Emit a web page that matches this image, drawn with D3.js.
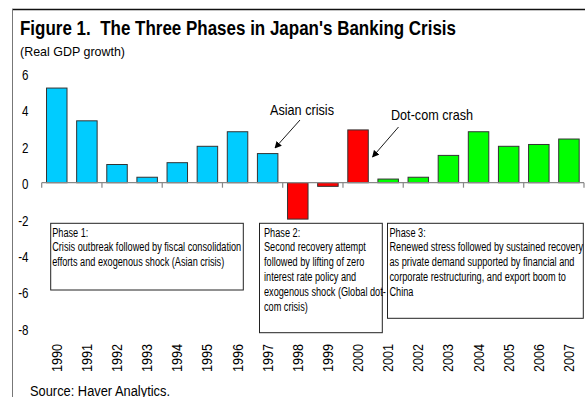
<!DOCTYPE html>
<html>
<head>
<meta charset="utf-8">
<script src="https://cdn.jsdelivr.net/npm/d3@7"></script>
<style>
  html, body { margin: 0; padding: 0; background: #fff; }
  svg { display: block; }
  text { font-family: "Liberation Sans", Arial, sans-serif; fill: #000; }
</style>
</head>
<body>
<svg id="chart" width="585" height="397"></svg>
<script>
// Real GDP growth, Japan, 1990-2007 (percent)
const years = ["1990","1991","1992","1993","1994","1995","1996","1997","1998",
               "1999","2000","2001","2002","2003","2004","2005","2006","2007"];
const growth = [5.2, 3.4, 1.0, 0.3, 1.1, 2.0, 2.8, 1.6, -2.0,
                -0.2, 2.9, 0.2, 0.3, 1.5, 2.8, 2.0, 2.1, 2.4];
const phase = [1,1,1,1,1,1,1,1,2, 2,2,3,3,3,3,3,3,3];
const phaseColors = {1: "#00CCFF", 2: "#FF0000", 3: "#00FF00"};
const yTicks = [6, 4, 2, 0, -2, -4, -6, -8];

const phaseNotes = [
  ["Phase 1:",
   "Crisis outbreak followed by fiscal consolidation",
   "efforts and exogenous shock (Asian crisis)"],
  ["Phase 2:",
   "Second recovery attempt",
   "followed by lifting of zero",
   "interest rate policy and",
   "exogenous shock (Global dot-",
   "com crisis)"],
  ["Phase 3:",
   "Renewed stress followed by sustained recovery",
   "as private demand supported by financial and",
   "corporate restructuring, and export boom to",
   "China"]
];

const svg = d3.select("#chart");

// condensed look: squeeze a class of texts by one common factor so that
// a reference string of that class spans the wanted width
function narrow(sel, factor) {
  sel.each(function () {
    const w = this.getComputedTextLength();
    d3.select(this).attr("textLength", w * factor).attr("lengthAdjust", "spacingAndGlyphs");
  });
}
function factorFor(node, width) { return width / node.getComputedTextLength(); }

const x = d3.scaleBand().domain(years).range([41.7, 584]).paddingInner(0.32).paddingOuter(0.16);
const y = d3.scaleLinear().domain([-8, 6]).range([328.3, 73.5]);

// frame
svg.append("line").attr("x1", 12).attr("x2", 585).attr("y1", 9.5).attr("y2", 9.5)
  .attr("stroke", "#111").attr("stroke-width", 1.6);
svg.append("line").attr("x1", 12.5).attr("x2", 12.5).attr("y1", 9).attr("y2", 397)
  .attr("stroke", "#777").attr("stroke-width", 1);

// titles
const title = svg.append("text").attr("x", 20).attr("y", 35)
  .attr("font-size", 19.5).attr("font-weight", "bold")
  .attr("xml:space", "preserve")
  .text("Figure 1.  The Three Phases in Japan's Banking Crisis");
narrow(title, factorFor(title.node(), 436));
const sub = svg.append("text").attr("x", 20).attr("y", 56).attr("font-size", 13.5)
  .text("(Real GDP growth)");
narrow(sub, factorFor(sub.node(), 105));

// y tick labels (no axis line)
const yl = svg.append("g").selectAll("text").data(yTicks).join("text")
  .attr("x", 28.5).attr("y", d => y(d) + 1.5)
  .attr("text-anchor", "end").attr("dominant-baseline", "central")
  .attr("font-size", 14.5)
  .text(d => d);
narrow(yl, 0.8);

// bars
svg.append("g").selectAll("rect").data(years).join("rect")
  .attr("x", d => x(d))
  .attr("width", x.bandwidth())
  .attr("y", (d, i) => y(Math.max(0, growth[i])))
  .attr("height", (d, i) => Math.abs(y(growth[i]) - y(0)))
  .attr("fill", (d, i) => phaseColors[phase[i]])
  .attr("stroke", "#333").attr("stroke-width", 1);

// x axis at zero, ticks every two years
const y0 = y(0);
svg.append("line").attr("x1", 41.7).attr("x2", 584).attr("y1", y0).attr("y2", y0)
  .attr("stroke", "#888").attr("stroke-width", 1.2);
const tickPos = d3.range(0, years.length + 1, 2).map(i => 41.7 + i * x.step());
svg.append("g").selectAll("line").data(tickPos).join("line")
  .attr("x1", d => d).attr("x2", d => d).attr("y1", y0).attr("y2", y0 + 5)
  .attr("stroke", "#888").attr("stroke-width", 1.2);

// year labels, rotated
const yr = svg.append("g").selectAll("text").data(years).join("text")
  .attr("transform", d => `translate(${x(d) + x.bandwidth() / 2 + 5},344) rotate(-90)`)
  .attr("text-anchor", "end")
  .attr("font-size", 14.5)
  .text(d => d);
narrow(yr, factorFor(yr.node(), 28));

// phase boxes
const boxes = [
  {x0: 50.7, x1: 243.3, y0: 223.3, y1: 290, pad: 1.5},
  {x0: 259.5, x1: 382.3, y0: 223.3, y1: 332.7, pad: 4.5},
  {x0: 387.5, x1: 583.3, y0: 223.3, y1: 318.3, pad: 2}
];
let noteFactor = null;
phaseNotes.forEach((lines, k) => {
  const b = boxes[k];
  const g = svg.append("g");
  g.append("rect").attr("x", b.x0).attr("y", b.y0)
    .attr("width", b.x1 - b.x0).attr("height", b.y1 - b.y0)
    .attr("fill", "#fff").attr("stroke", "#222").attr("stroke-width", 1);
  const t = g.selectAll("text").data(lines).join("text")
    .attr("x", b.x0 + b.pad).attr("y", (d, i) => 236.5 + i * 14.8)
    .attr("font-size", 12)
    .text(d => d);
  if (noteFactor === null) noteFactor = factorFor(t.nodes()[1], 189);
  narrow(t, noteFactor);
});

// callouts with arrows
const defs = svg.append("defs");
defs.append("marker").attr("id", "arrow").attr("viewBox", "0 0 10 10")
  .attr("refX", 9).attr("refY", 5).attr("markerWidth", 7).attr("markerHeight", 7)
  .attr("orient", "auto").attr("markerUnits", "userSpaceOnUse")
  .append("path").attr("d", "M0,0 L10,5 L0,10 z").attr("fill", "#000");

const arrows = [
  {label: "Asian crisis", tx: 302, ty: 115, w: 64, from: [300, 120], to: [275, 148]},
  {label: "Dot-com crash", tx: 432, ty: 120, w: 82, from: [398.5, 127], to: [372.5, 157]}
];
arrows.forEach(a => {
  const t = svg.append("text").attr("x", a.tx).attr("y", a.ty)
    .attr("text-anchor", "middle").attr("font-size", 15)
    .text(a.label);
  narrow(t, factorFor(t.node(), a.w));
  svg.append("line").attr("x1", a.from[0]).attr("y1", a.from[1])
    .attr("x2", a.to[0]).attr("y2", a.to[1])
    .attr("stroke", "#000").attr("stroke-width", 0.9)
    .attr("marker-end", "url(#arrow)");
});

// source
const src = svg.append("text").attr("x", 30).attr("y", 396).attr("font-size", 15.5)
  .text("Source: Haver Analytics.");
narrow(src, factorFor(src.node(), 140));
</script>
</body>
</html>
